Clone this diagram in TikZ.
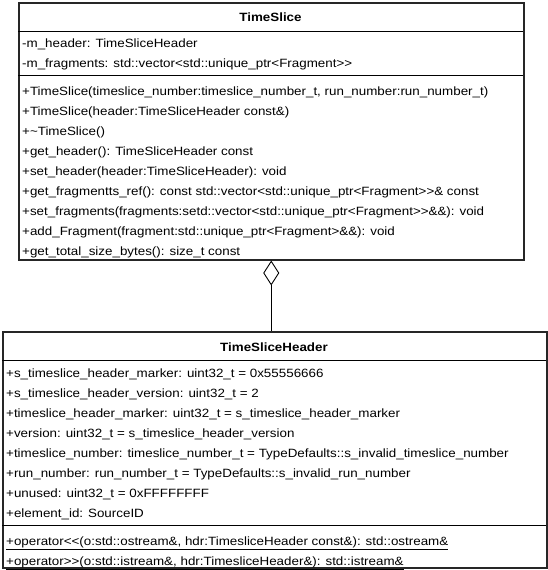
\documentclass[tikz,border=0pt]{standalone}
\usepackage{fontspec}
\setmainfont{Liberation Sans}[FakeStretch=1.115]
\usetikzlibrary{arrows.meta}
\begin{document}
\begin{tikzpicture}[x=1pt,y=-1pt,
  box/.style={draw=black!85,line width=1.5pt,fill=white,inner sep=0pt,anchor=north west},
  divider/.style={draw=black,line width=0.9pt},
  row/.style={anchor=base west,inner sep=0pt,font=\fontsize{12}{14}\selectfont},
  title/.style={anchor=base,inner sep=0pt,font=\fontsize{12}{14}\selectfont\bfseries},
  link/.style={draw=black,line width=0.9pt}]
\useasboundingbox (0,0) rectangle (547,570);
% TimeSlice box
\node[box,minimum width=505pt,minimum height=257pt] (ts) at (18,2) {};
\draw[divider] (18,31) -- (523,31);
\draw[divider] (18,75.5) -- (523,75.5);
\node[title] (tst) at (270.5,21) {TimeSlice};
\node[row] (a1) at (22,47) {-m\_header: TimeSliceHeader};
\node[row] (a2) at (22,67) {-m\_fragments: std::vector<std::unique\_ptr<Fragment>{}>};
\node[row] (m1) at (22,95) {+TimeSlice(timeslice\_number:timeslice\_number\_t, run\_number:run\_number\_t)};
\node[row] (m2) at (22,115) {+TimeSlice(header:TimeSliceHeader const\&)};
\node[row] (m3) at (22,135) {+\textasciitilde TimeSlice()};
\node[row] (m4) at (22,155) {+get\_header(): TimeSliceHeader const};
\node[row] (m5) at (22,175) {+set\_header(header:TimeSliceHeader): void};
\node[row] (m6) at (22,195) {+get\_fragmentts\_ref(): const std::vector<std::unique\_ptr<Fragment>{}>\& const};
\node[row] (m7) at (22,215) {+set\_fragments(fragments:setd::vector<std::unique\_ptr<Fragment>{}>\&\&): void};
\node[row] (m8) at (22,235) {+add\_Fragment(fragment:std::unique\_ptr<Fragment>\&\&): void};
\node[row] (m9) at (22,255) {+get\_total\_size\_bytes(): size\_t const};
% TimeSliceHeader box
\node[box,minimum width=544pt,minimum height=236pt] (hdr) at (2,331) {};
\draw[divider] (2,360) -- (546,360);
\draw[divider] (2,525) -- (546,525);
\node[title] (hdt) at (274,351) {TimeSliceHeader};
\node[row] (h1) at (6,377) {+s\_timeslice\_header\_marker: uint32\_t = 0x55556666};
\node[row] (h2) at (6,397) {+s\_timeslice\_header\_version: uint32\_t = 2};
\node[row] (h3) at (6,417) {+timeslice\_header\_marker: uint32\_t = s\_timeslice\_header\_marker};
\node[row] (h4) at (6,437) {+version: uint32\_t = s\_timeslice\_header\_version};
\node[row] (h5) at (6,457) {+timeslice\_number: timeslice\_number\_t = TypeDefaults::s\_invalid\_timeslice\_number};
\node[row] (h6) at (6,477) {+run\_number: run\_number\_t = TypeDefaults::s\_invalid\_run\_number};
\node[row] (h7) at (6,497) {+unused: uint32\_t = 0xFFFFFFFF};
\node[row] (h8) at (6,517) {+element\_id: SourceID};
\node[row] (o1) at (6,545) {\underline{+operator<{}<(o:std::ostream\&, hdr:TimesliceHeader const\&): std::ostream\&}};
\node[row] (o2) at (6,565) {\underline{+operator>{}>(o:std::istream\&, hdr:TimesliceHeader\&): std::istream\&}};
% aggregation
\draw[link,{Diamond[open,fill=white,length=25pt,width=16pt]}-] (ts.south) -- (ts.south |- hdr.north);
\end{tikzpicture}
\end{document}
